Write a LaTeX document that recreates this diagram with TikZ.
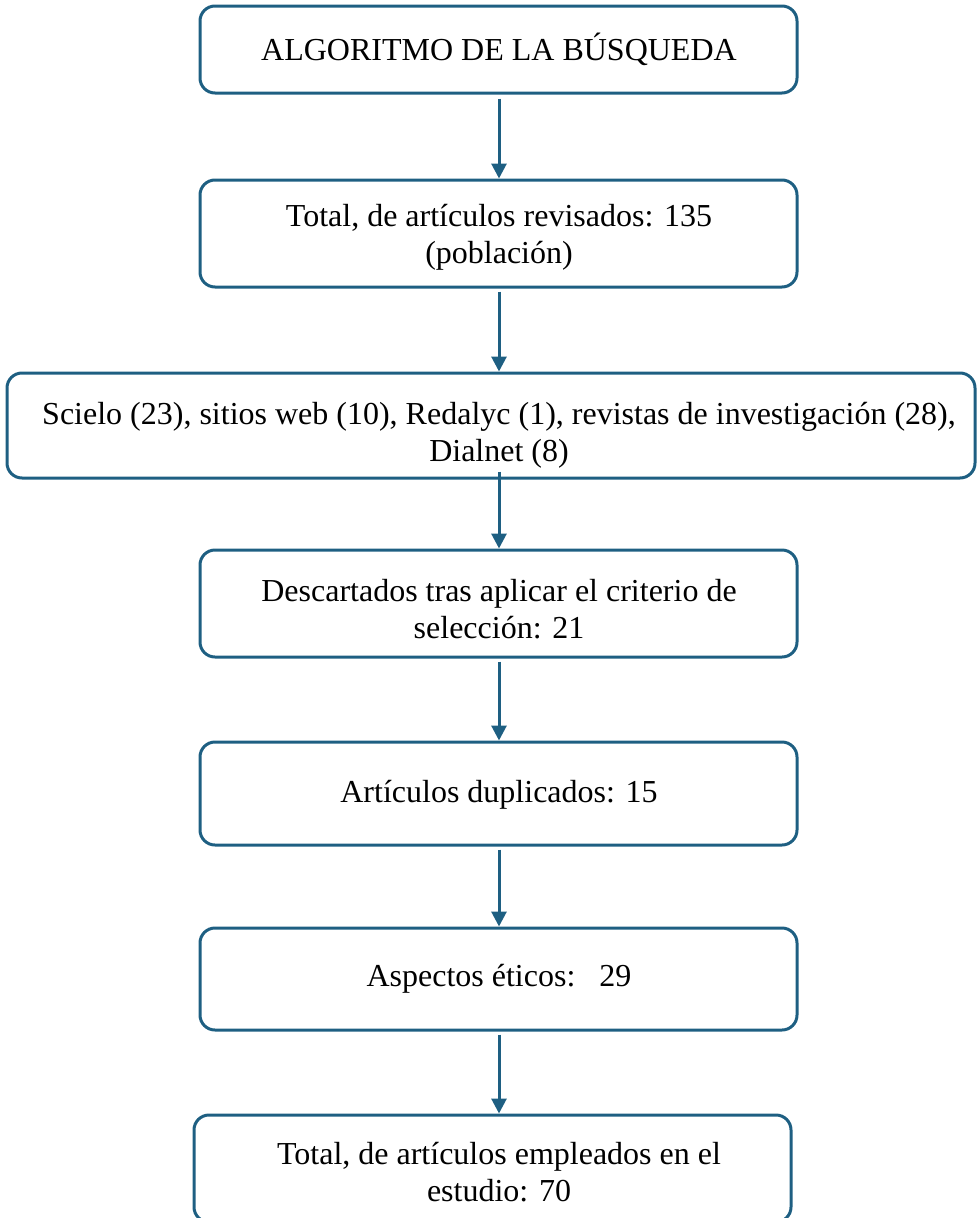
\documentclass[tikz,border=0pt]{standalone}
\usepackage{fontspec}
\setmainfont{Liberation Serif}
\usetikzlibrary{arrows.meta}
\definecolor{boxblue}{RGB}{30,95,130}
\begin{document}
\begin{tikzpicture}[x=1pt,y=-1pt,
  flowbox/.style={draw=boxblue,line width=3pt,rounded corners=15pt,inner sep=0pt},
  flowtext/.style={align=center,font=\fontsize{32}{37}\selectfont,inner sep=0pt},
  arr/.style={draw=boxblue,line width=3pt,-{Triangle[width=15pt,length=15pt]}}]
\useasboundingbox (0,0) rectangle (977,1218);
\coordinate (ax) at (499,0);
\node[flowbox,minimum width=597pt,minimum height=87pt] (b1) at (498.5,49.5) {};
\node[flowbox,minimum width=597pt,minimum height=107pt] (b2) at (498.5,233.5) {};
\node[flowbox,minimum width=968pt,minimum height=105pt] (b3) at (491,425.5) {};
\node[flowbox,minimum width=597pt,minimum height=107pt] (b4) at (498.5,603.5) {};
\node[flowbox,minimum width=597pt,minimum height=103pt] (b5) at (498.5,793.5) {};
\node[flowbox,minimum width=597pt,minimum height=102pt] (b6) at (498.5,979) {};
\node[flowbox,minimum width=597pt,minimum height=107pt] (b7) at (492.5,1168.5) {};
\node[flowtext] (t1) at (499,49) {ALGORITMO DE LA BÚSQUEDA};
\node[flowtext] (t2) at (499,237) {Total, de artículos revisados: 135\\(población)};
\node[flowtext] (t3) at (499,435) {Scielo (23), sitios web (10), Redalyc (1), revistas de investigación (28),\\Dialnet (8)};
\node[flowtext] (t4) at (499,609) {Descartados tras aplicar el criterio de\\selección: 21};
\node[flowtext] (t5) at (499,795) {Artículos duplicados: 15};
\node[flowtext] (t6) at (499,979) {Aspectos éticos:\ \ \ 29};
\node[flowtext] (t7) at (499,1172) {Total, de artículos empleados en el\\estudio: 70};
\draw[arr] ([yshift=-4pt]b1.south -| ax) -- (b2.north -| ax);
\draw[arr] ([yshift=-3pt]b2.south -| ax) -- (b3.north -| ax);
\draw[arr] ([yshift=8pt]b3.south -| ax) -- (b4.north -| ax);
\draw[arr] ([yshift=-3pt]b4.south -| ax) -- (b5.north -| ax);
\draw[arr] ([yshift=-3pt]b5.south -| ax) -- (b6.north -| ax);
\draw[arr] ([yshift=-3pt]b6.south -| ax) -- (b7.north -| ax);
\end{tikzpicture}
\end{document}
